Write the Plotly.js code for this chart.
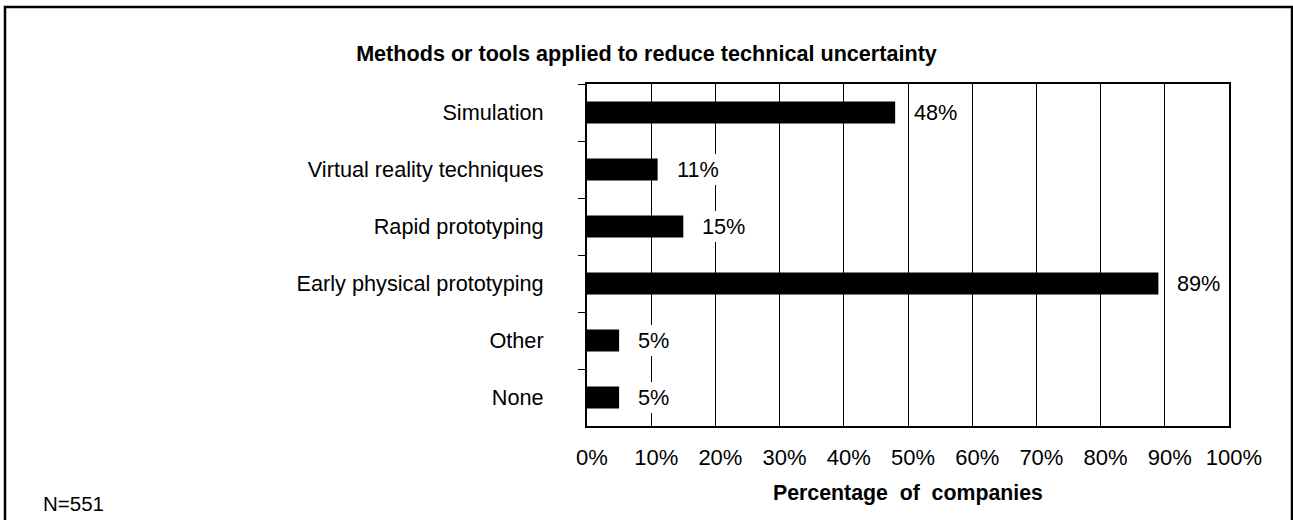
<!DOCTYPE html>
<html>
<head>
<meta charset="utf-8">
<script src="https://cdn.plot.ly/plotly-3.0.1.min.js"></script>
<style>
  html, body { margin: 0; padding: 0; background: #fff; }
  #chart { width: 1293px; height: 520px; }
</style>
</head>
<body>
<div id="chart"></div>
<script>
const categories = ["Simulation", "Virtual reality techniques", "Rapid prototyping", "Early physical prototyping", "Other", "None"];
const values = [48, 11, 15, 89, 5, 5];
const labels = ["48%", "11%", "15%", "89%", "5%", "5%"];
const xTickValues = [0, 10, 20, 30, 40, 50, 60, 70, 80, 90, 100];
const xTickLabels = ["0%", "10%", "20%", "30%", "40%", "50%", "60%", "70%", "80%", "90%", "100%"];
const chartTitle = "Methods or tools applied to reduce technical uncertainty";
const xTitle = "Percentage\u00A0 of\u00A0 companies";
const sampleNote = "N=551";

const W = 1293, H = 520;
const M = { l: 587, r: 64, t: 84, b: 94 };
const PW = W - M.l - M.r, PH = H - M.t - M.b;
const px2x = p => (p - M.l) / PW;
const py2y = p => 1 - (p - M.t) / PH;

const FONT = "Liberation Sans, Arial, sans-serif";
const FS = 21.7;

const trace = {
  type: "bar",
  orientation: "h",
  x: values,
  y: categories,
  width: 0.39,
  marker: { color: "#000000", line: { width: 0 } },
  hoverinfo: "skip"
};

const annotations = categories.map((c, i) => ({
  x: values[i], y: c, xref: "x", yref: "y",
  text: labels[i], showarrow: false,
  xanchor: "left", yanchor: "middle",
  xshift: 16, bgcolor: "#ffffff", borderpad: 3, borderwidth: 0,
  font: { family: FONT, size: FS, color: "#000" }
}));

annotations.push({
  xref: "paper", yref: "paper", x: 0.5, y: py2y(493),
  text: "<b>" + xTitle + "</b>", showarrow: false,
  xanchor: "center", yanchor: "middle",
  font: { family: FONT, size: 21.3, color: "#000" }
});
annotations.push({
  xref: "paper", yref: "paper", x: px2x(41), y: py2y(503),
  text: sampleNote, showarrow: false,
  xanchor: "left", yanchor: "middle",
  font: { family: FONT, size: 20.5, color: "#000" }
});

const layout = {
  width: W, height: H,
  margin: M,
  paper_bgcolor: "#ffffff",
  plot_bgcolor: "#ffffff",
  showlegend: false,
  title: {
    text: "<b>" + chartTitle + "</b>",
    x: 0.5, xref: "container", xanchor: "center",
    y: 1 - 53 / H, yref: "container", yanchor: "middle",
    font: { family: FONT, size: 21.6, color: "#000" }
  },
  xaxis: {
    range: [0, 100],
    tickvals: xTickValues,
    ticktext: xTickLabels,
    showgrid: true, gridcolor: "#000000", gridwidth: 1,
    zeroline: false,
    showline: true, linecolor: "#000000", linewidth: 2, mirror: true,
    ticks: "",
    ticklabelstandoff: 11,
    ticklabelshift: 5,
    tickfont: { family: FONT, size: 22, color: "#000" },
    fixedrange: true
  },
  yaxis: {
    type: "category",
    autorange: "reversed",
    showgrid: false, zeroline: false,
    showline: true, linecolor: "#000000", linewidth: 2, mirror: true,
    ticks: "outside", ticklen: 7, tickwidth: 1, tickcolor: "#000",
    tickson: "boundaries",
    ticklabelstandoff: 37,
    tickfont: { family: FONT, size: FS, color: "#000" },
    fixedrange: true
  },
  annotations: annotations,
  shapes: [{
    type: "rect", xref: "paper", yref: "paper",
    x0: px2x(5), x1: px2x(1292), y0: py2y(523), y1: py2y(7),
    line: { color: "#000000", width: 2.5 }, fillcolor: "rgba(0,0,0,0)",
    layer: "above"
  }]
};

Plotly.newPlot("chart", [trace], layout, { displayModeBar: false, staticPlot: true });
</script>
</body>
</html>
